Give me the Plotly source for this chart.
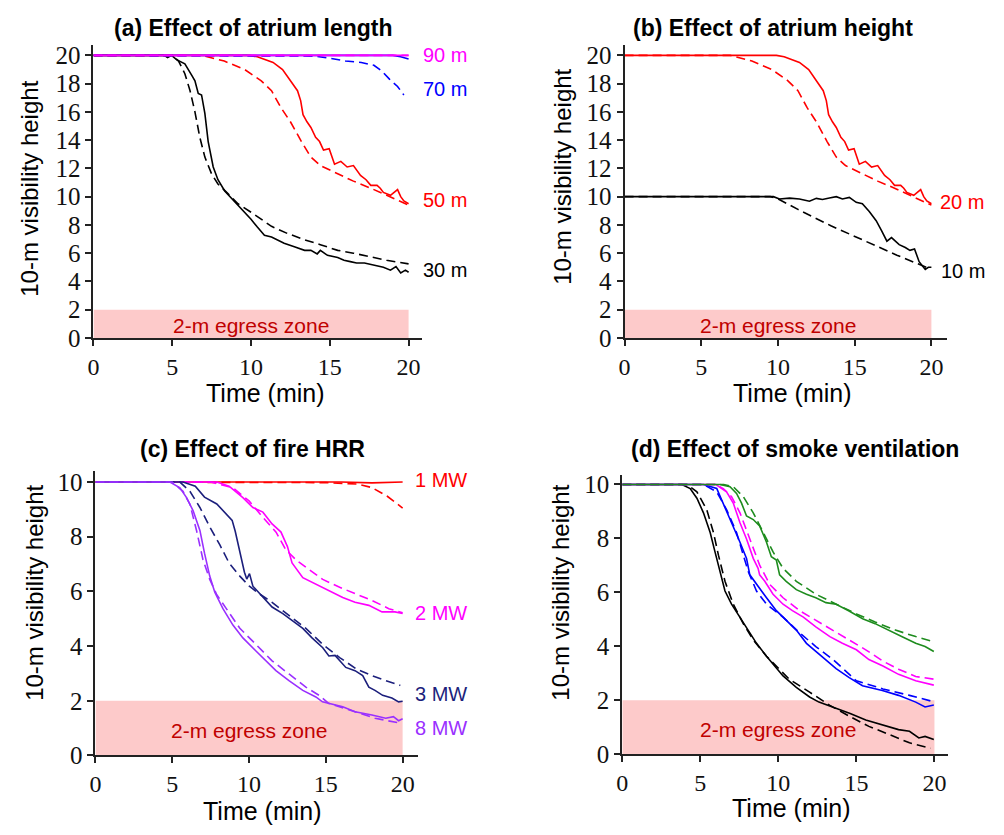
import plotly.graph_objects as go

# ---------------- data: 10-m visibility height (m) vs time (min) ----------------
# solid = FDS simulation, dashed = model prediction

# (a) atrium length (20 m high atrium)
a30_fds_t = [0, 4.5, 4.7, 4.96, 5.27, 5.8, 6.23, 6.44, 6.65, 6.86, 7.07, 7.28, 7.6, 7.9, 8.33, 8.75, 9.17,
             9.6, 10.0, 10.4, 10.85, 11.3, 11.7, 12.1, 12.75, 13.4, 13.8, 14.2, 14.4, 14.85, 15.5, 15.9,
             16.3, 16.7, 17.2, 17.6, 18.0, 18.4, 18.85, 19.2, 19.5, 19.8, 20.0]
a30_fds_h = [20, 20, 19.85, 20, 19.7, 19.4, 18.6, 18.2, 17.3, 17.2, 15.9, 13.9, 12.1, 11.2, 10.4, 9.9, 9.45,
             8.9, 8.4, 7.85, 7.27, 7.15, 6.9, 6.7, 6.45, 6.2, 6.2, 5.95, 6.2, 5.85, 5.7, 5.5,
             5.4, 5.3, 5.3, 5.2, 5.1, 5.0, 4.8, 5.05, 4.6, 4.8, 4.65]
a30_mod_t = [0, 5.0, 5.4, 5.8, 6.13, 6.44, 6.75, 7.07, 7.5, 7.9, 8.55, 9.17, 10.0, 11.3, 12.3, 13.4, 14.4,
             15.5, 16.5, 17.6, 18.6, 20.0]
a30_mod_h = [20, 20, 19.6, 18.7, 17.5, 16.0, 14.2, 12.8, 11.6, 10.9, 10.2, 9.5, 8.9, 7.9, 7.4, 6.95, 6.6,
             6.2, 6.0, 5.75, 5.5, 5.24]

a50_fds_t = [0, 9.9, 10.4, 10.85, 11.4, 12.0, 12.6, 12.95, 13.15, 13.3, 13.55, 13.8, 14.1, 14.35, 14.6,
             14.96, 15.3, 15.7, 16.1, 16.5, 16.95, 17.3, 17.6, 18.0, 18.2, 18.4, 18.85, 19.3, 19.5, 19.7, 20.0]
a50_fds_h = [20, 20, 19.9, 19.7, 19.5, 19.0, 18.1, 17.5, 16.8, 15.8, 15.3, 14.9, 14.2, 13.9, 13.3,
             13.4, 12.3, 12.5, 12.1, 12.2, 11.5, 11.2, 10.8, 10.8, 10.6, 10.3, 10.1, 10.5, 10.0, 9.7, 9.5]
a50_mod_t = [0, 6.9, 8.3, 9.6, 10.65, 11.3, 11.9, 12.5, 13.2, 13.8, 14.4, 15.5, 16.5, 17.6, 18.6, 20.0]
a50_mod_h = [20, 20, 19.6, 19.0, 18.2, 17.5, 16.3, 15.3, 13.9, 12.8, 12.2, 11.6, 11.1, 10.6, 10.1, 9.4]

a70_fds_t = [0, 19.0, 19.5, 20.0]
a70_fds_h = [20, 20, 19.9, 19.75]
a70_mod_t = [0, 8.0, 14.0, 15.0, 16.0, 17.0, 17.8, 18.3, 18.8, 19.3, 19.7]
a70_mod_h = [20, 20, 19.95, 19.8, 19.6, 19.5, 19.3, 18.9, 18.3, 17.8, 17.2]

a90_fds_t = [0, 20.0]
a90_fds_h = [20, 20]
a90_mod_t = [0, 20.0]
a90_mod_h = [20, 20]

# (b) atrium height (20 m case shares the base run)
b20_fds_t, b20_fds_h = a50_fds_t, a50_fds_h
b20_mod_t, b20_mod_h = a50_mod_t, a50_mod_h
b10_fds_t = [0, 9.7, 10.1, 10.76, 11.4, 12.05, 12.5, 12.9, 13.35, 13.8, 14.2, 14.65, 15.1, 15.5, 15.95,
             16.4, 16.75, 17.1, 17.4, 17.9, 18.3, 18.6, 18.9, 19.2, 19.6, 19.8, 20.0]
b10_fds_h = [10, 10, 9.84, 9.9, 9.84, 9.68, 9.88, 9.8, 9.9, 10.0, 9.84, 9.95, 9.6, 9.5, 8.95,
             8.3, 7.6, 6.85, 7.1, 6.6, 6.4, 6.2, 6.3, 5.4, 4.85, 5.0, 5.0]
b10_mod_t = [0, 9.5, 10.0, 11.3, 13.45, 15.6, 17.75, 19.7, 19.95]
b10_mod_h = [10, 10, 9.84, 9.1, 7.94, 6.9, 5.86, 4.99, 4.92]

# (c) fire heat release rate
c1_fds_t = [0, 10, 14, 16, 18, 19, 20.0]
c1_fds_h = [10, 10, 9.98, 10, 9.97, 9.99, 10]
c1_mod_t = [0, 10, 15, 17, 18, 19, 20.0]
c1_mod_h = [10, 10, 9.98, 9.93, 9.8, 9.48, 9.05]

c2_fds_t = [0, 7.9, 8.7, 9.6, 10.25, 10.9, 11.5, 12.08, 12.5, 12.8, 13.5, 14.35, 15.2, 16.1, 16.9,
            17.8, 18.66, 19.5, 20.0]
c2_fds_h = [10, 10, 9.85, 9.43, 9.07, 8.9, 8.47, 8.17, 7.64, 7.04, 6.5, 6.26, 6.02, 5.78, 5.6,
            5.49, 5.25, 5.25, 5.19]
c2_mod_t = [0, 7.5, 8.95, 10.0, 10.9, 11.76, 12.4, 13.05, 13.9, 14.8, 15.9, 16.9, 18.0, 19.1, 20.0]
c2_mod_h = [10, 10, 9.79, 9.31, 8.71, 8.17, 7.52, 7.16, 6.8, 6.44, 6.15, 5.91, 5.67, 5.37, 5.22]

c3_fds_t = [0, 5.7, 6.5, 7.1, 7.9, 8.5, 8.9, 9.1, 9.4, 9.7, 9.85, 10.03, 10.25, 10.8, 11.5, 12.2, 12.8,
            13.5, 14.1, 14.8, 15.2, 15.6, 16.3, 16.9, 17.4, 17.8, 18.2, 18.7, 19.3, 19.74, 20.0]
c3_fds_h = [10, 10, 9.85, 9.45, 9.2, 8.85, 8.6, 8.2, 7.4, 6.7, 6.45, 6.65, 6.19, 5.85, 5.43, 5.19, 4.95,
            4.65, 4.3, 3.94, 3.64, 3.66, 3.22, 3.1, 2.92, 2.5, 2.38, 2.2, 2.1, 1.96, 1.98]
c3_mod_t = [0, 5.5, 6.15, 6.8, 7.45, 8.1, 8.7, 9.4, 10.0, 10.7, 11.5, 12.6, 13.7, 14.8, 15.9, 17.0,
            18.0, 18.9, 19.85]
c3_mod_h = [10, 10, 9.66, 9.07, 8.35, 7.7, 7.04, 6.56, 6.2, 5.9, 5.6, 5.13, 4.65, 4.06, 3.58, 3.16,
            2.92, 2.74, 2.56]

c8_fds_t = [0, 4.85, 5.5, 5.93, 6.36, 6.8, 7.1, 7.44, 7.77, 8.3, 8.95, 9.6, 10.45, 11.1, 11.75, 12.6,
            13.05, 13.5, 14.35, 14.78, 16.1, 16.9, 18.0, 18.9, 19.4, 19.74, 20.0]
c8_fds_h = [10, 10, 9.79, 9.43, 8.95, 8.23, 7.4, 6.56, 5.97, 5.37, 4.77, 4.3, 3.82, 3.46, 3.1, 2.74,
            2.55, 2.38, 2.14, 1.96, 1.78, 1.6, 1.48, 1.36, 1.42, 1.27, 1.34]
c8_mod_t = [0, 5.0, 5.7, 6.15, 6.58, 7.0, 7.44, 7.88, 8.52, 9.4, 10.45, 11.5, 12.6, 13.7, 14.56, 15.2,
            16.9, 18.2, 19.85]
c8_mod_h = [10, 10, 9.66, 9.19, 8.23, 7.16, 6.44, 5.9, 5.37, 4.65, 4.06, 3.46, 2.98, 2.5, 2.2, 1.9,
            1.6, 1.36, 1.18]

# (d) smoke ventilation rate
d0_fds_t = [0, 3.82, 4.35, 4.78, 5.2, 5.63, 5.94, 6.26, 6.58, 7.0, 7.54, 8.07, 8.6, 9.24, 9.87, 10.3,
            11.15, 12.0, 12.6, 13.5, 14.6, 15.6, 16.7, 17.7, 18.4, 19.0, 19.4, 19.96]
d0_fds_h = [10, 10, 9.85, 9.49, 8.95, 8.22, 7.5, 6.77, 6.05, 5.56, 5.08, 4.6, 4.11, 3.63, 3.21, 2.9,
            2.48, 2.12, 1.93, 1.75, 1.51, 1.27, 1.09, 0.91, 0.85, 0.6, 0.66, 0.54]
d0_mod_t = [0, 4.14, 4.78, 5.41, 5.84, 6.16, 6.58, 7.11, 7.75, 8.39, 9.24, 10.1, 10.7, 12.0, 13.3, 14.6,
            15.8, 17.1, 18.4, 19.75]
d0_mod_h = [10, 10, 9.73, 9.07, 8.22, 7.38, 6.41, 5.56, 4.84, 4.24, 3.63, 3.15, 2.78, 2.3, 1.81, 1.39,
            1.03, 0.73, 0.42, 0.22]

d20_fds_t = [0, 5.2, 6.05, 6.47, 7.0, 7.54, 7.96, 8.17, 8.6, 9.24, 9.87, 10.5, 11.15, 11.8, 12.4, 13.05,
             13.7, 14.54, 15.39, 16.66, 17.7, 18.8, 19.4, 19.96]
d20_fds_h = [10, 10, 9.85, 9.31, 8.58, 7.86, 7.26, 6.65, 6.29, 5.8, 5.32, 4.96, 4.6, 4.11, 3.81, 3.51,
             3.17, 2.84, 2.54, 2.36, 2.18, 1.93, 1.75, 1.82]
d20_mod_t = [0, 5.2, 6.05, 6.68, 7.32, 7.75, 8.07, 8.6, 9.24, 10.3, 11.4, 12.4, 13.5, 15.0, 16.7, 18.4, 19.85]
d20_mod_h = [10, 10, 9.73, 9.07, 8.22, 7.38, 6.77, 6.05, 5.56, 5.08, 4.48, 3.99, 3.51, 2.72, 2.42, 2.18, 1.96]

d30_fds_t = [0, 6.0, 6.68, 7.11, 7.54, 7.96, 8.39, 8.7, 8.8, 9.13, 9.66, 10.3, 10.9, 11.6, 12.4, 13.3,
             14.1, 15.0, 15.8, 16.7, 17.7, 18.8, 19.96]
d30_fds_h = [10, 10, 9.73, 9.31, 8.58, 7.98, 7.26, 6.89, 6.65, 6.41, 5.93, 5.56, 5.32, 5.08, 4.72, 4.36,
             4.11, 3.87, 3.51, 3.27, 2.96, 2.72, 2.56]
d30_mod_t = [0, 6.0, 6.47, 7.0, 7.54, 8.17, 8.8, 9.45, 10.3, 11.36, 12.4, 13.5, 14.5, 15.6, 16.7, 17.7,
             18.8, 19.96]
d30_mod_h = [10, 10, 9.85, 9.55, 8.95, 7.98, 7.01, 6.29, 5.8, 5.32, 4.96, 4.6, 4.24, 3.87, 3.45, 3.15,
             2.88, 2.78]

d40_fds_t = [0, 6.26, 6.9, 7.32, 7.64, 7.96, 8.39, 8.8, 9.24, 9.55, 9.87, 10.08, 10.5, 11.15, 11.8, 12.4,
             13.05, 13.7, 14.5, 15.4, 16.2, 17.1, 17.9, 18.8, 19.4, 19.96]
d40_fds_h = [10, 10, 9.92, 9.67, 9.31, 8.83, 8.7, 8.46, 7.86, 7.32, 7.2, 6.65, 6.41, 6.1, 5.93, 5.8,
             5.62, 5.56, 5.32, 5.02, 4.84, 4.6, 4.36, 4.11, 3.99, 3.81]
d40_mod_t = [0, 6.5, 7.11, 7.75, 8.39, 9.02, 9.66, 10.3, 11.15, 12.4, 13.7, 15.0, 16.2, 17.5, 18.8, 19.96]
d40_mod_h = [10, 10, 9.92, 9.55, 8.95, 8.22, 7.5, 6.89, 6.41, 5.93, 5.56, 5.2, 4.9, 4.6, 4.36, 4.17]

# egress zone and axis ticks
EGRESS_HEIGHT = 2
SIM_END = 20
x_ticks = [0, 5, 10, 15, 20]
y_ticks_tall = [0, 2, 4, 6, 8, 10, 12, 14, 16, 18, 20]
y_ticks_short = [0, 2, 4, 6, 8, 10]

# ---------------- styling ----------------
RED = "#ff0000"
BLUE = "#0000ff"
MAGENTA = "#ff00ff"
BLACK = "#000000"
NAVY = "#1c1f7c"
PURPLE = "#9a30ff"
GREEN = "#1e8c1e"
ZONE_FILL = "#fdcaca"
ZONE_TEXT = "#c00000"
DASH = "9px,5px"
LW = 1.6

SANS = "Liberation Sans, Arial, sans-serif"
SERIF = "Liberation Serif, Times New Roman, serif"

W, H = 1004, 835

fig = go.Figure()

panels = {
    # name: (xaxis id, yaxis id, x domain px, y domain px (top, bottom), x max, y max, y ticks)
    "a": ("x", "y", (88, 418), (41.7, 341.3), 20.82, 20.75, y_ticks_tall),
    "b": ("x2", "y2", (622.3, 946.7), (41.7, 341.3), 21.02, 20.75, y_ticks_tall),
    "c": ("x3", "y3", (90, 414), (477.7, 768), 20.97, 10.39, y_ticks_short),
    "d": ("x4", "y4", (620, 948), (481.7, 766.7), 20.89, 10.34, y_ticks_short),
}

series = {
    "a": [(a30_fds_t, a30_fds_h, a30_mod_t, a30_mod_h, BLACK),
          (a50_fds_t, a50_fds_h, a50_mod_t, a50_mod_h, RED),
          (a70_fds_t, a70_fds_h, a70_mod_t, a70_mod_h, BLUE),
          (a90_fds_t, a90_fds_h, a90_mod_t, a90_mod_h, MAGENTA)],
    "b": [(b10_fds_t, b10_fds_h, b10_mod_t, b10_mod_h, BLACK),
          (b20_fds_t, b20_fds_h, b20_mod_t, b20_mod_h, RED)],
    "c": [(c1_fds_t, c1_fds_h, c1_mod_t, c1_mod_h, RED),
          (c2_fds_t, c2_fds_h, c2_mod_t, c2_mod_h, MAGENTA),
          (c3_fds_t, c3_fds_h, c3_mod_t, c3_mod_h, NAVY),
          (c8_fds_t, c8_fds_h, c8_mod_t, c8_mod_h, PURPLE)],
    "d": [(d0_fds_t, d0_fds_h, d0_mod_t, d0_mod_h, BLACK),
          (d20_fds_t, d20_fds_h, d20_mod_t, d20_mod_h, BLUE),
          (d30_fds_t, d30_fds_h, d30_mod_t, d30_mod_h, MAGENTA),
          (d40_fds_t, d40_fds_h, d40_mod_t, d40_mod_h, GREEN)],
}

# curve labels at the right end of each panel: (text, colour, x, y)
end_labels = {
    "a": [("90 m", MAGENTA, 20.8, 20.0), ("70 m", BLUE, 20.8, 17.6),
          ("50 m", RED, 20.8, 9.74), ("30 m", BLACK, 20.8, 4.78)],
    "b": [("20 m", RED, 20.4, 9.65), ("10 m", BLACK, 20.5, 4.73)],
    "c": [("1 MW", RED, 20.65, 10.07), ("2 MW", MAGENTA, 20.65, 5.2),
          ("3 MW", NAVY, 20.65, 2.26), ("8 MW", PURPLE, 20.65, 1.0)],
    "d": [("40 m<sup>3</sup>", GREEN, 20.95, 4.84), ("30 m<sup>3</sup>", MAGENTA, 20.95, 3.36),
          ("20 m<sup>3</sup>", BLUE, 20.95, 1.69), ("0 m<sup>3</sup>", BLACK, 20.95, 0.49)],
}

titles = {
    "a": ("(a) Effect of atrium length", 249, 25),
    "b": ("(b) Effect of atrium height", 772, 25),
    "c": ("(c) Effect of fire HRR", 248, 455),
    "d": ("(d) Effect of smoke ventilation", 794, 455),
}
xtitle_pos = {"a": (261, 398), "b": (791, 398), "c": (258, 825), "d": (790, 822)}
ytitle_pos = {"a": (24, 189), "b": (560, 177), "c": (28, 602), "d": (557, 602)}

layout_axes = {}
shapes = []
annotations = []

for key, (xa, ya, (px0, px1), (py_top, py_bot), xmax, ymax, yt) in panels.items():
    xname = "xaxis" if xa == "x" else "xaxis" + xa[1:]
    yname = "yaxis" if ya == "y" else "yaxis" + ya[1:]
    axis_common = dict(
        showline=True, linecolor="#222222", linewidth=2, showgrid=False, zeroline=False,
        ticks="outside", ticklen=6, tickwidth=2, tickcolor="#222222",
    )
    layout_axes[xname] = dict(domain=[px0 / W, px1 / W], anchor=ya, range=[0, xmax],
                              tickvals=x_ticks,
                              tickfont=dict(family=SERIF, size=24, color="#111111"), **axis_common)
    layout_axes[yname] = dict(domain=[1 - py_bot / H, 1 - py_top / H], anchor=xa, range=[0, ymax],
                              tickvals=yt,
                              tickfont=dict(family=SERIF, size=25, color="#111111"), **axis_common)

    # 2-m egress zone
    shapes.append(dict(type="rect", xref=xa, yref=ya, x0=0, x1=SIM_END, y0=0, y1=EGRESS_HEIGHT,
                       fillcolor=ZONE_FILL, line=dict(width=0), layer="below"))
    annotations.append(dict(xref=xa, yref=ya, x=SIM_END / 2, y=EGRESS_HEIGHT * 0.45,
                            text="2-m egress zone", showarrow=False,
                            font=dict(family=SANS, size=21, color=ZONE_TEXT)))

    for fds_t, fds_h, mod_t, mod_h, color in series[key]:
        fig.add_trace(go.Scatter(x=mod_t, y=mod_h, mode="lines", xaxis=xa, yaxis=ya,
                                 line=dict(color=color, width=LW, dash=DASH),
                                 showlegend=False, hoverinfo="skip"))
        fig.add_trace(go.Scatter(x=fds_t, y=fds_h, mode="lines", xaxis=xa, yaxis=ya,
                                 line=dict(color=color, width=LW),
                                 showlegend=False, hoverinfo="skip"))

    for text, color, lx, ly in end_labels[key]:
        annotations.append(dict(xref=xa, yref=ya, x=lx, y=ly, text=text, showarrow=False,
                                xanchor="left", yanchor="middle",
                                font=dict(family=SANS, size=20, color=color)))

    t_text, tx, ty = titles[key]
    annotations.append(dict(xref="paper", yref="paper", x=tx / W, y=1 - ty / H, text="<b>" + t_text + "</b>",
                            showarrow=False, xanchor="center", yanchor="middle",
                            font=dict(family=SANS, size=23, color="#000000")))
    xx, xy = xtitle_pos[key]
    annotations.append(dict(xref="paper", yref="paper", x=xx / W, y=1 - xy / H, text="Time (min)",
                            showarrow=False, xanchor="center", yanchor="middle",
                            font=dict(family=SANS, size=25, color="#000000")))
    yx, yy = ytitle_pos[key]
    annotations.append(dict(xref="paper", yref="paper", x=yx / W, y=1 - yy / H,
                            text="10-m visibility height", textangle=-90,
                            showarrow=False, xanchor="center", yanchor="middle",
                            font=dict(family=SANS, size=24, color="#000000")))

fig.update_layout(
    width=W, height=H,
    margin=dict(l=0, r=0, t=0, b=0),
    paper_bgcolor="white", plot_bgcolor="white",
    shapes=shapes, annotations=annotations,
    **layout_axes,
)

fig.write_html("out.html")
